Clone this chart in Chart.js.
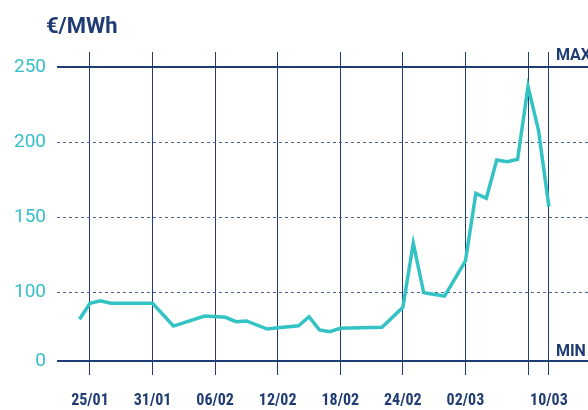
<!DOCTYPE html>
<html>
<head>
<meta charset="utf-8">
<script src="https://cdn.jsdelivr.net/npm/chart.js@4.4.1/dist/chart.umd.min.js"></script>
<style>
  html, body { margin: 0; padding: 0; background: #fff; }
  #wrap { width: 588px; height: 410px; position: relative; }
</style>
</head>
<body>
<div id="wrap"><canvas id="grafico"></canvas></div>
<script>
// dates (dd/mm, 2022) and price in €/MWh
const dates = ['24/01', '25/01', '26/01', '27/01', '28/01', '31/01', '02/02', '05/02', '07/02', '08/02',
               '09/02', '11/02', '12/02', '14/02', '15/02', '16/02', '17/02', '18/02', '22/02', '24/02',
               '25/02', '26/02', '28/02', '02/03', '03/03', '04/03', '05/03', '06/03', '07/03', '08/03',
               '09/03', '10/03'];
const prices = [81.8, 92.5, 94.2, 92.5, 92.5, 92.5, 77.3, 84.0, 83.1, 80.2,
                80.7, 75.3, 76.2, 77.5, 83.5, 74.7, 73.5, 75.8, 76.5, 89.8,
                132.5, 99.5, 97.3, 120.7, 165.8, 162.5, 188.0, 186.9, 188.5, 237.0,
                208.0, 156.9];

// the axis is cut below 100: the bottom line is labelled 0
const yTickValues = [54, 100, 150, 200, 250];
const yTickLabels = ['0', '100', '150', '200', '250'];
const xTickDates = ['25/01', '31/01', '06/02', '12/02', '18/02', '24/02', '02/03', '08/03', '10/03'];
const xTickLabels = ['25/01', '31/01', '06/02', '12/02', '18/02', '24/02', '02/03', '', '10/03'];
const unitLabel = '€/MWh';

const navy = '#1f3c73';
const teal = '#34c3c5';

// days counted from 25/01
function dayOf(s) {
    const [d, m] = s.split('/').map(Number);
    return (Date.UTC(2022, m - 1, d) - Date.UTC(2022, 0, 25)) / 86400000;
}

const extraText = {
    id: 'extraText',
    afterDraw(chart) {
        const { ctx, scales: { x, y } } = chart;
        ctx.save();
        ctx.fillStyle = navy;
        ctx.textBaseline = 'alphabetic';
        ctx.font = 'bold 22px Roboto';
        ctx.fillText(unitLabel, 46, 33);
        ctx.font = 'bold 16px Roboto';
        const xr = x.getPixelForValue(dayOf('10/03')) + 7;
        ctx.fillText('MAX', xr, y.getPixelForValue(250) - 7);
        ctx.fillText('MIN', xr, y.getPixelForValue(yTickValues[0]) - 5);
        ctx.restore();
    }
};

const isEdge = v => v === yTickValues[0] || v === 250;

new Chart(document.getElementById('grafico'), {
    type: 'line',
    data: {
        datasets: [{
            label: unitLabel,
            data: dates.map((d, i) => ({ x: dayOf(d), y: prices[i] })),
            borderColor: teal,
            borderWidth: 3.5,
            pointRadius: 0,
            tension: 0,
            fill: false
        }]
    },
    options: {
        responsive: true,
        maintainAspectRatio: false,
        animation: false,
        layout: { padding: { top: 52, left: 0, right: 0, bottom: 0 } },
        plugins: {
            legend: { display: false },
            tooltip: { enabled: false }
        },
        scales: {
            x: {
                type: 'linear',
                min: -3.16,
                max: 47.75,
                afterBuildTicks: scale => {
                    scale.ticks = xTickDates.map(s => ({ value: dayOf(s) }));
                },
                afterFit: scale => { scale.height = 49; },
                ticks: {
                    autoSkip: false,
                    maxRotation: 0,
                    padding: 16,
                    color: navy,
                    font: { family: '"Roboto Condensed", "DejaVu Sans Condensed", "Liberation Sans Narrow", Roboto, sans-serif', weight: 'bold', size: 16 },
                    callback: (v, i) => xTickLabels[i]
                },
                grid: { color: navy, lineWidth: 1, drawTicks: true, tickLength: 14, tickColor: navy },
                border: { display: false }
            },
            y: {
                type: 'linear',
                min: 54,
                max: 260,
                afterBuildTicks: scale => {
                    scale.ticks = yTickValues.map(v => ({ value: v }));
                },
                afterFit: scale => { scale.width = 57; },
                ticks: {
                    padding: 11,
                    color: '#35c0c8',
                    font: { family: 'Roboto', weight: 'normal', size: 19 },
                    callback: (v, i) => yTickLabels[i]
                },
                grid: {
                    drawTicks: false,
                    color: ctx => (ctx.tick && isEdge(ctx.tick.value)) ? navy : '#4a6390',
                    lineWidth: ctx => (ctx.tick && isEdge(ctx.tick.value)) ? 2 : 1
                },
                border: {
                    display: false,
                    dash: ctx => (ctx.tick && !isEdge(ctx.tick.value)) ? [3, 3] : []
                }
            }
        }
    },
    plugins: [extraText]
});
</script>
</body>
</html>
